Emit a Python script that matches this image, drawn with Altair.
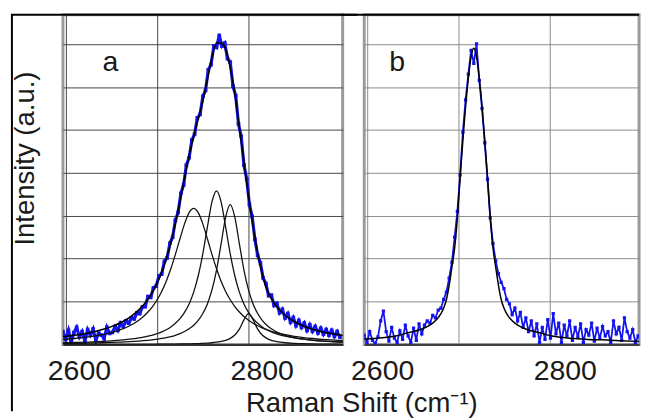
import altair as alt
import pandas as pd

FONT = "Liberation Sans"
BLUE = "#1414ee"
TXT = "#1a1a1a"

# ---------------- panel a: fitted curves ----------------
fit_x = [2595, 2610, 2625, 2640, 2650, 2660, 2670,
         2680, 2685, 2690, 2695, 2700, 2705, 2710, 2715, 2720, 2725, 2730, 2735,
         2740, 2745, 2750, 2755, 2760, 2765, 2770, 2775, 2780, 2785, 2790, 2795,
         2800, 2805, 2810, 2815, 2820, 2825, 2830, 2835, 2840,
         2850, 2860, 2870, 2880, 2890, 2905]
comp1 = [0.114, 0.141, 0.177, 0.230, 0.280, 0.346, 0.437,
         0.567, 0.652, 0.757, 0.885, 1.043, 1.237, 1.476, 1.764, 2.099, 2.463, 2.811, 3.072,
         3.170, 3.072, 2.811, 2.463, 2.099, 1.764, 1.476, 1.237, 1.043, 0.885, 0.757, 0.652,
         0.567, 0.496, 0.437, 0.388, 0.346, 0.310, 0.280, 0.253, 0.230,
         0.193, 0.164, 0.141, 0.122, 0.107, 0.089]
comp2 = [0.040, 0.048, 0.058, 0.073, 0.086, 0.102, 0.124,
         0.154, 0.173, 0.195, 0.222, 0.255, 0.296, 0.346, 0.411, 0.494, 0.603, 0.749, 0.947,
         1.222, 1.602, 2.113, 2.735, 3.324, 3.580, 3.324, 2.735, 2.113, 1.602, 1.222, 0.947,
         0.749, 0.603, 0.494, 0.411, 0.346, 0.296, 0.255, 0.222, 0.195,
         0.154, 0.124, 0.102, 0.086, 0.073, 0.058]
comp3 = [0.024, 0.029, 0.034, 0.042, 0.049, 0.057, 0.067,
         0.081, 0.090, 0.100, 0.112, 0.125, 0.142, 0.162, 0.186, 0.216, 0.254, 0.303, 0.366,
         0.450, 0.564, 0.722, 0.947, 1.272, 1.735, 2.344, 2.970, 3.260, 2.970, 2.344, 1.735,
         1.272, 0.947, 0.722, 0.564, 0.450, 0.366, 0.303, 0.254, 0.216,
         0.162, 0.125, 0.100, 0.081, 0.067, 0.053]
comp4 = [0.002, 0.002, 0.002, 0.003, 0.003, 0.004, 0.004,
         0.005, 0.005, 0.006, 0.006, 0.007, 0.008, 0.009, 0.010, 0.011, 0.013, 0.014, 0.017,
         0.019, 0.023, 0.028, 0.034, 0.042, 0.054, 0.072, 0.099, 0.144, 0.222, 0.360, 0.576,
         0.720, 0.576, 0.360, 0.222, 0.144, 0.099, 0.072, 0.054, 0.042,
         0.028, 0.019, 0.014, 0.011, 0.009, 0.006]
envelope_a = [0.180, 0.220, 0.271, 0.348, 0.418, 0.509, 0.632,
              0.807, 0.920, 1.058, 1.225, 1.430, 1.683, 1.993, 2.371, 2.820, 3.333, 3.877, 4.402,
              4.861, 5.261, 5.674, 6.179, 6.680, 7.030, 7.020, 6.880, 6.450, 5.850, 5.050, 4.250,
              3.450, 2.750, 2.130, 1.650, 1.286, 1.071, 0.910, 0.783, 0.683,
              0.537, 0.432, 0.357, 0.300, 0.256, 0.206]

# ---------------- panel a: measured spectrum ----------------
meas_x = list(range(2597, 2901, 3))
meas_a = [0.30, 0.12, 0.33, 0.05, 0.28, 0.40, 0.18, 0.30, 0.08, 0.35,
          0.22, 0.36, 0.10, 0.27, 0.22, 0.14, 0.40, 0.26, 0.28, 0.42,
          0.33, 0.50, 0.42, 0.55, 0.50, 0.62, 0.60, 0.74, 0.72, 0.88,
          0.88, 1.12, 1.10, 1.32, 1.36, 1.60, 1.64, 1.94, 2.02, 2.36,
          2.50, 2.90, 3.08, 3.52, 3.72, 4.18, 4.35, 4.76, 4.90, 5.28,
          5.36, 5.78, 5.92, 6.40, 6.52, 6.95, 6.92, 7.20, 6.95, 7.02,
          6.66, 6.58, 6.02, 5.80, 5.14, 4.85, 4.18, 3.86, 3.26, 2.98,
          2.45, 2.08, 1.90, 1.55, 1.42, 1.14, 1.15, 0.91, 0.96, 0.74,
          0.82, 0.62, 0.72, 0.52, 0.63, 0.44, 0.56, 0.40, 0.50, 0.33,
          0.46, 0.31, 0.42, 0.27, 0.38, 0.24, 0.35, 0.22, 0.33, 0.19,
          0.30, 0.17]

# ---------------- panel b ----------------
fit_b_x = [2595, 2607, 2622, 2634, 2642, 2650, 2657, 2662, 2667, 2672,
           2677, 2681, 2684, 2687, 2690, 2693, 2696, 2699, 2702, 2705,
           2708, 2711, 2714, 2717, 2720, 2723, 2726, 2729, 2732, 2735,
           2738, 2741, 2744, 2747, 2750, 2753, 2757, 2762, 2767, 2772,
           2777, 2784, 2792, 2800, 2812, 2827, 2842, 2857, 2877, 2905]
fit_b = [0.12, 0.14, 0.17, 0.21, 0.26, 0.30, 0.34, 0.38, 0.43, 0.50,
         0.60, 0.72, 0.85, 1.05, 1.38, 1.80, 2.25, 2.95, 3.90, 4.75,
         5.55, 6.20, 6.70, 6.90, 6.70, 6.20, 5.55, 4.75, 3.90, 2.95,
         2.25, 1.80, 1.38, 1.05, 0.85, 0.72, 0.60, 0.50, 0.43, 0.38,
         0.34, 0.30, 0.26, 0.21, 0.17, 0.14, 0.12, 0.11, 0.09, 0.07]
meas_b = [0.22, 0.05, 0.30, 0.10, 0.02, 0.18, 0.55, 0.78, 0.30, 0.08,
          0.40, 0.15, 0.05, 0.32, 0.12, 0.45, 0.20, 0.05, 0.38, 0.10,
          0.48, 0.25, 0.45, 0.55, 0.50, 0.68, 0.62, 0.80, 0.85, 1.05,
          1.22, 1.55, 1.92, 2.50, 3.10, 3.95, 4.95, 5.70, 6.30, 6.85,
          6.55, 7.00, 6.15, 5.50, 4.70, 3.85, 2.95, 2.35, 1.95, 1.65,
          1.45, 1.30, 1.05, 0.95, 0.70, 0.85, 0.55, 0.75, 0.40, 0.62,
          0.30, 0.55, 0.20, 0.48, 0.05, 0.40, 0.12, 0.58, 0.15, 0.72,
          0.25, 0.50, 0.05, 0.45, 0.20, 0.55, 0.10, 0.40, 0.18, 0.48,
          0.05, 0.35, 0.22, 0.50, 0.08, 0.38, 0.15, 0.42, 0.20, 0.30,
          0.05, 0.55, 0.25, 0.40, 0.10, 0.62, 0.30, 0.15, 0.35, 0.05,
          0.20, 0.10]

x_ticks = [2600, 2700, 2800]
x_tick_labels = [2600, 2800]
y_ticks = [0, 1, 2, 3, 4, 5, 6, 7]
panel_labels_a = pd.DataFrame({"x": [2649], "y": [6.36], "t": ["a"]})
panel_labels_b = pd.DataFrame({"x": [2633], "y": [6.36], "t": ["b"]})

# ---------------- tables ----------------
curves_a = pd.DataFrame({"x": fit_x, "c1": comp1, "c2": comp2, "c3": comp3, "c4": comp4})
comps_long = curves_a.melt(id_vars="x", var_name="comp", value_name="y")
env_a = pd.DataFrame({"x": fit_x, "y": envelope_a})
data_a = pd.DataFrame({"x": meas_x, "y": meas_a})
env_b = pd.DataFrame({"x": fit_b_x, "y": fit_b})
data_b = pd.DataFrame({"x": meas_x, "y": meas_b})
tick_lbl = pd.DataFrame({"x": x_tick_labels, "t": [str(v) for v in x_tick_labels]})
one = pd.DataFrame({"k": [0]})

ys = alt.Scale(domain=[0, 7.68], nice=False, zero=False)
PLOT_H = 336


def x_axis(grid_color, title):
    kw = dict(values=x_ticks, grid=True, gridColor=grid_color, gridWidth=1, gridOpacity=1,
              ticks=False, labels=False, domainColor="#222", domainWidth=1.5)
    if title:
        kw.update(title=title, titleX=304, titleY=68, titleBaseline="alphabetic",
                  titleAlign="center", titleFontSize=28, titleFont=FONT,
                  titleFontWeight="normal", titleColor=TXT)
    else:
        kw.update(title=None)
    return alt.Axis(**kw)


def y_axis(grid_color, title):
    kw = dict(values=y_ticks, grid=True, gridColor=grid_color, gridWidth=1,
              gridOpacity=1, labels=False, ticks=False, domain=False)
    if title:
        kw.update(title=title, titleX=-38, titleY=146, titleAngle=270,
                  titleBaseline="middle", titleAlign="center", titleFontSize=28,
                  titleFont=FONT, titleFontWeight="normal", titleColor=TXT)
    else:
        kw.update(title=None)
    return alt.Axis(**kw)


def panel(dom, grid_color, dx, xtitle, ytitle, dat, lbl, line_w, pt_size):
    xs = alt.Scale(domain=dom, nice=False, zero=False)
    base_x = alt.X("x:Q", scale=xs, axis=x_axis(grid_color, xtitle))
    base_y = alt.Y("y:Q", scale=ys, axis=y_axis(grid_color, ytitle))
    meas_line = alt.Chart(dat).mark_line(color=BLUE, strokeWidth=line_w, clip=True).encode(
        x=base_x, y=base_y)
    meas_pts = alt.Chart(dat).mark_square(color=BLUE, size=pt_size, opacity=1, clip=True).encode(
        x="x:Q", y="y:Q")
    txt = alt.Chart(lbl).mark_text(fontSize=29, font=FONT, color=TXT, align="center",
                                   baseline="alphabetic").encode(x="x:Q", y="y:Q", text="t:N")
    ticks_txt = alt.Chart(tick_lbl).mark_text(fontSize=29, font=FONT, color=TXT, align="center",
                                              baseline="alphabetic", dx=dx).encode(
        x="x:Q", y=alt.value(PLOT_H + 36), text="t:N")
    return [meas_line, meas_pts, txt, ticks_txt]


# panel a
la = panel([2597, 2903], "#454545", 14, "Raman Shift (cm⁻¹)", "Intensity (a.u.)", data_a,
           panel_labels_a, 3.2, 14)
comps = alt.Chart(comps_long).mark_line(color="#111", strokeWidth=1.3, interpolate="monotone",
                                        clip=True).encode(x="x:Q", y="y:Q", detail="comp:N")
env = alt.Chart(env_a).mark_line(color="#000", strokeWidth=1.6, interpolate="monotone",
                                 clip=True).encode(x="x:Q", y="y:Q")
frame_v = alt.Chart(one).mark_rule(color="#000", strokeWidth=2).encode(
    x=alt.value(-52), y=alt.value(0), y2=alt.value(404))
frame_h = alt.Chart(one).mark_rule(color="#000", strokeWidth=2).encode(
    x=alt.value(-53), x2=alt.value(300), y=alt.value(0))
panel_a = alt.layer(la[0], la[1], comps, env, la[2], la[3], frame_v, frame_h).properties(
    width=285, height=PLOT_H)

# panel b
lb = panel([2597, 2898], "#8a8a8a", 16, None, None, data_b, panel_labels_b, 1.8, 11)
env_b_line = alt.Chart(env_b).mark_line(color="#000", strokeWidth=1.5, interpolate="monotone",
                                        clip=True).encode(x="x:Q", y="y:Q")
frame_hb = alt.Chart(one).mark_rule(color="#000", strokeWidth=2).encode(
    x=alt.value(-24), x2=alt.value(280), y=alt.value(0))
panel_b = alt.layer(lb[0], lb[1], env_b_line, lb[2], lb[3], frame_hb).properties(
    width=280, height=PLOT_H)

chart = alt.hconcat(panel_a, panel_b, spacing=22, bounds="flush").properties(
    padding=0, background="white"
).configure_view(stroke="#9a9a9a", strokeWidth=3)

chart.save("out.html", embed_options={"renderer": "svg", "actions": False})
